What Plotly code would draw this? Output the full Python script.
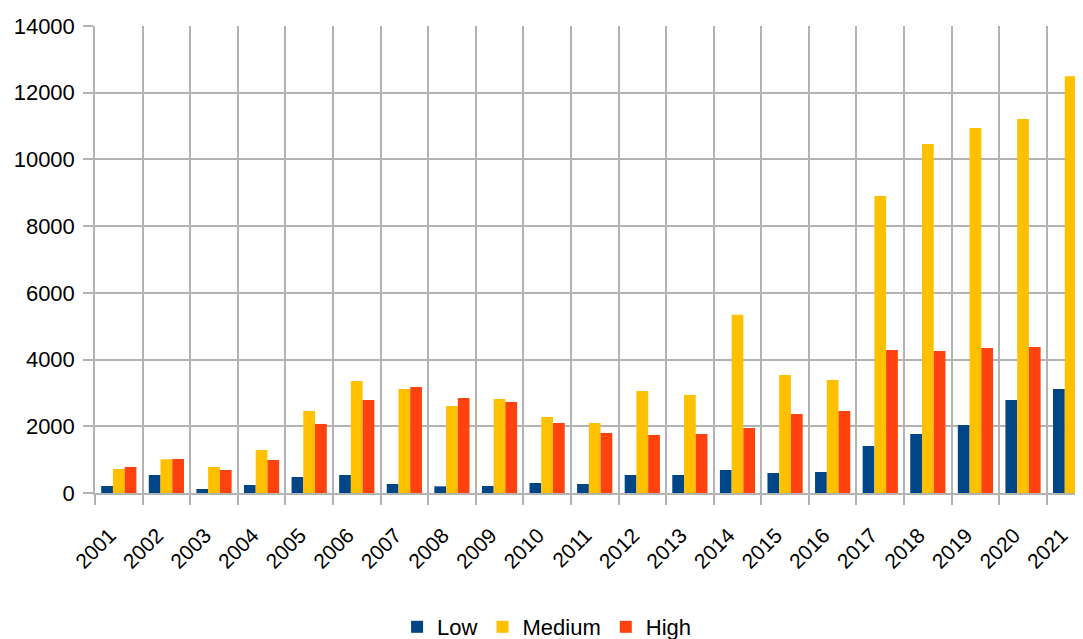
import plotly.graph_objects as go

years = [str(y) for y in range(2001, 2022)]
low = [210, 540, 120, 240, 480, 540, 270, 200, 210, 300, 270, 540, 540, 690, 600, 630, 1410, 1770, 2040, 2790, 3120]
medium = [720, 1010, 780, 1290, 2460, 3360, 3120, 2610, 2820, 2280, 2100, 3060, 2940, 5340, 3540, 3390, 8900, 10460, 10940, 11210, 12490]
high = [780, 1020, 690, 990, 2070, 2790, 3180, 2850, 2730, 2100, 1800, 1740, 1770, 1950, 2370, 2460, 4290, 4260, 4350, 4380, 3900]

series = [("Low", low, "#004586"), ("Medium", medium, "#ffc000"), ("High", high, "#ff420e")]

fig = go.Figure()
for name, vals, col in series:
    fig.add_trace(go.Bar(x=years, y=vals, name=name, marker=dict(color=col, line=dict(width=0))))

grid = "#b3b3b3"
font = "Liberation Sans, Arial, sans-serif"
fig.update_layout(
    width=1075, height=631,
    margin=dict(l=87, r=0, t=18, b=146, autoexpand=False),
    paper_bgcolor="white", plot_bgcolor="white",
    barmode="group", bargap=0.26, bargroupgap=0,
    font=dict(family=font, size=21, color="#000000"),
    showlegend=True,
    legend=dict(orientation="h", xref="container", yref="container", x=0.501, y=0.019,
                xanchor="center", yanchor="middle", font=dict(size=22), itemwidth=30),
    xaxis=dict(type="category", tickson="boundaries", showgrid=True, gridcolor=grid, gridwidth=1.5,
               ticks="outside", ticklen=10, tickcolor=grid, tickwidth=1.5, tickangle=-45,
               range=[-0.5, 20.26], showline=True, linecolor=grid, linewidth=1.5,
               tickfont=dict(size=21), automargin=False, ticklabelshift=-9, ticklabelstandoff=20),
    yaxis=dict(range=[0, 14000], dtick=2000, tickformat="d", showgrid=True, gridcolor=grid, gridwidth=1.5,
               ticks="outside", ticklen=10, tickcolor=grid, tickwidth=1.5,
               showline=True, linecolor=grid, linewidth=1.5, zeroline=False,
               tickfont=dict(size=22), automargin=False, ticklabelstandoff=4),
)
fig.write_html("out.html")
